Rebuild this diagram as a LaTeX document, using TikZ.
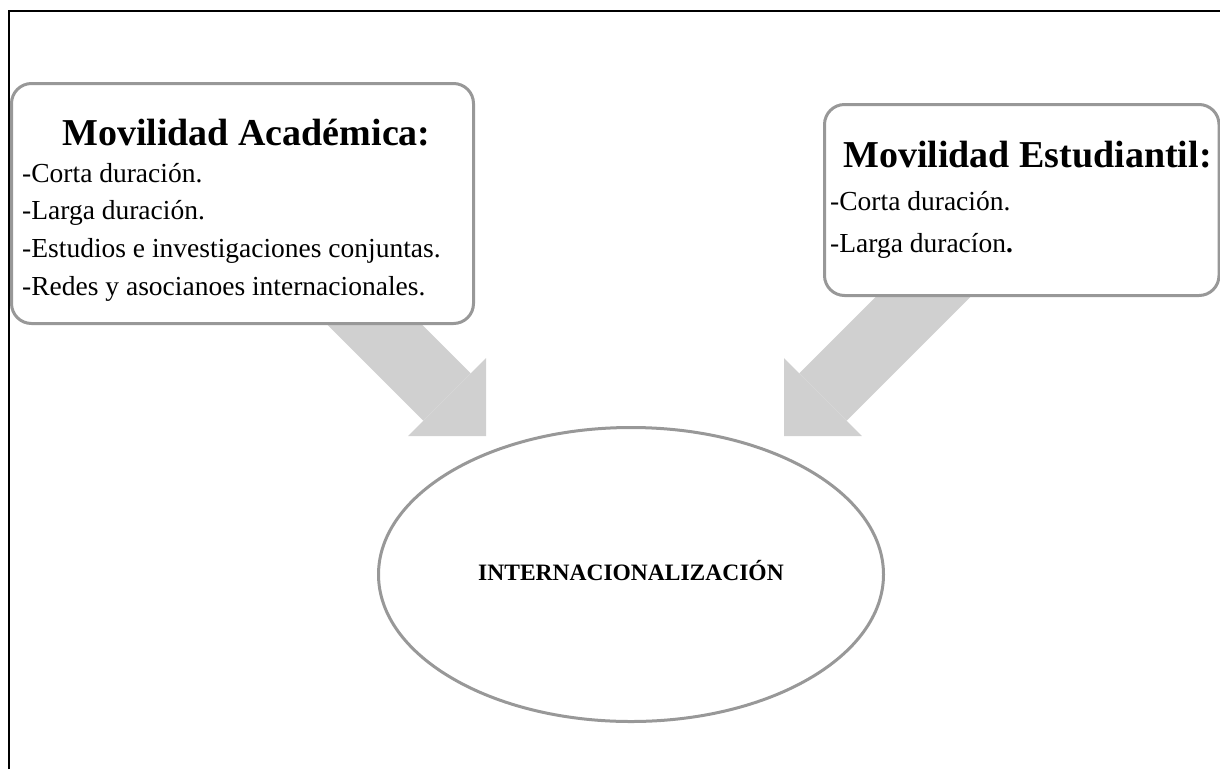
\documentclass[tikz,border=0pt]{standalone}
\usepackage{fontspec}
\setmainfont{Liberation Serif}
\usepackage{tikz}
\usetikzlibrary{shapes.geometric, arrows.meta, backgrounds}

\definecolor{boxgray}{HTML}{989898}
\definecolor{arrowgray}{HTML}{D0D0D0}

\begin{document}
\begin{tikzpicture}[
    x=1pt, y=-1pt,
    box/.style={rectangle, draw=boxgray, line width=3pt, fill=white, rounded corners=20pt, inner sep=0pt},
    heading/.style={font=\fontsize{38}{46}\selectfont\bfseries, inner sep=0pt, anchor=base west},
    item/.style={font=\fontsize{27.5}{32}\selectfont, inner sep=0pt, anchor=base west},
    hub/.style={ellipse, draw=boxgray, line width=3pt, fill=white, minimum width=505pt, minimum height=294pt, inner sep=0pt},
    bigarrow/.style={draw=arrowgray, line width=67pt, -{Triangle[length=55pt, width=110pt, line width=0pt]}}
]
\useasboundingbox (0,0) rectangle (1220,769);

% Frame
\draw[line width=2pt] (9,769) -- (9,10.5) -- (1220,10.5);

% Movilidad Academica
\node[box, minimum width=462pt, minimum height=240pt] (acad) at (242.5,203.5) {};
\node[heading] (acadtitle) at (62,145) {Movilidad Académica:};
\foreach \txt [count=\i] in {-Corta duración., -Larga duración., -Estudios e investigaciones conjuntas., -Redes y asocianoes internacionales.}
    \node[item] (acad-\i) at (22, 144.3+37.7*\i) {\txt};

% Movilidad Estudiantil
\node[box, minimum width=394.5pt, minimum height=191pt] (estu) at (1021.75,200) {};
\node[heading] (estutitle) at (843,167) {Movilidad Estudiantil:};
\node[item] (estu-1) at (830,210) {-Corta duración.};
\node[item] (estu-2) at (830,252) {-Larga duracíon\textbf{.}};

% Internacionalizacion
\node[hub] (inter) at (631,574.5) {};
\node[font=\fontsize{23.5}{28}\selectfont\bfseries, inner sep=0pt, anchor=base] (interlabel) at (631,580.5) {INTERNACIONALIZACIÓN};

% Arrows
\coordinate (acadtail) at (326,276);
\coordinate (acadtip) at (486,436);
\coordinate (estutail) at (950,270);
\coordinate (estutip) at (784,436);
\begin{scope}[on background layer]
\draw[bigarrow] (acadtail) -- (acadtip);
\draw[bigarrow] (estutail) -- (estutip);
\end{scope}

\end{tikzpicture}
\end{document}
